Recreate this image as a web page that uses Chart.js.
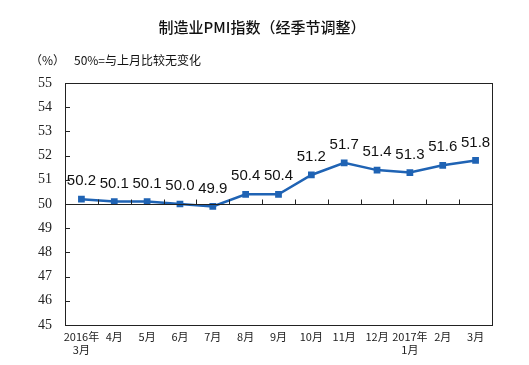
<!DOCTYPE html>
<html>
<head>
<meta charset="utf-8" />
<script src="https://cdn.jsdelivr.net/npm/chart.js@4.4.1/dist/chart.umd.min.js"></script>
<style>
  body { margin:0; background:#fff; }
  #wrap { width:529px; height:365px; position:relative; }
</style>
</head>
<body>
<div id="wrap"><canvas id="pmi"></canvas></div>
<script>
const months = [["2016年","3月"],"4月","5月","6月","7月","8月","9月","10月","11月","12月",["2017年","1月"],"2月","3月"];
const pmi = [50.2, 50.1, 50.1, 50.0, 49.9, 50.4, 50.4, 51.2, 51.7, 51.4, 51.3, 51.6, 51.8];
const yMin = 45, yMax = 55, baseLine = 50;
const titleText = "制造业PMI指数（经季节调整）";
const unitText = "（%）";
const noteText = "50%=与上月比较无变化";

const BLUE = "#1f63b4";

const decor = {
  id: "decor",
  afterDraw(chart) {
    const ctx = chart.ctx, a = chart.chartArea;
    const x = chart.scales.x, y = chart.scales.y;
    ctx.save();
    // title + note
    ctx.fillStyle = "#111";
    ctx.textAlign = "center"; ctx.textBaseline = "middle";
    ctx.font = "500 15px 'Noto Sans CJK SC'";
    ctx.fillText(titleText, 262, 27);
    ctx.textAlign = "left";
    ctx.font = "12px 'Noto Sans CJK SC'";
    ctx.fillText(unitText, 30, 60);
    ctx.fillText(noteText, 74, 60);
    // frame
    ctx.strokeStyle = "#222"; ctx.lineWidth = 1;
    ctx.strokeRect(a.left + 0.5, a.top + 0.5, a.right - a.left, a.bottom - a.top);
    // 50 line
    const y50 = Math.round(y.getPixelForValue(baseLine)) + 0.5;
    ctx.beginPath();
    ctx.moveTo(a.left, y50); ctx.lineTo(a.right, y50);
    // category ticks on 50 line
    for (let i = 1; i < months.length; i++) {
      const px = Math.round((x.getPixelForValue(i - 1) + x.getPixelForValue(i)) / 2) + 0.5;
      ctx.moveTo(px, y50); ctx.lineTo(px, y50 - 5);
    }
    // y ticks inward
    for (let v = yMin + 1; v < yMax; v++) {
      const py = Math.round(y.getPixelForValue(v)) + 0.5;
      ctx.moveTo(a.left, py); ctx.lineTo(a.left + 5, py);
    }
    ctx.stroke();
    // data labels
    const meta = chart.getDatasetMeta(0);
    ctx.fillStyle = "#111";
    ctx.textAlign = "center"; ctx.textBaseline = "middle";
    ctx.font = "15px 'Liberation Sans'";
    meta.data.forEach((pt, i) => {
      ctx.fillText(pmi[i].toFixed(1), pt.x, pt.y - 18);
    });
    ctx.restore();
  }
};

new Chart(document.getElementById("pmi"), {
  type: "line",
  data: {
    labels: months,
    datasets: [{
      data: pmi,
      borderColor: BLUE,
      backgroundColor: BLUE,
      borderWidth: 2.5,
      pointStyle: "rect",
      pointRadius: 3,
      pointHoverRadius: 3,
      tension: 0
    }]
  },
  options: {
    responsive: true, maintainAspectRatio: false, animation: false,
    layout: { padding: { left: 0, right: 37, top: 83, bottom: 0 } },
    plugins: { legend: { display: false }, tooltip: { enabled: false } },
    scales: {
      x: {
        offset: true,
        grid: { display: false },
        border: { display: false },
        ticks: { color: "#222", font: { family: "'Noto Sans CJK SC'", size: 11 }, maxRotation: 0, autoSkip: false, padding: -3 },
        afterFit(s) { s.height = 40; }
      },
      y: {
        min: yMin, max: yMax,
        grid: { display: false },
        border: { display: false },
        ticks: { stepSize: 1, color: "#222", font: { family: "'Liberation Serif'", size: 14 }, padding: 5 },
        afterFit(s) { s.width = 65; }
      }
    }
  },
  plugins: [decor]
});
</script>
</body>
</html>
